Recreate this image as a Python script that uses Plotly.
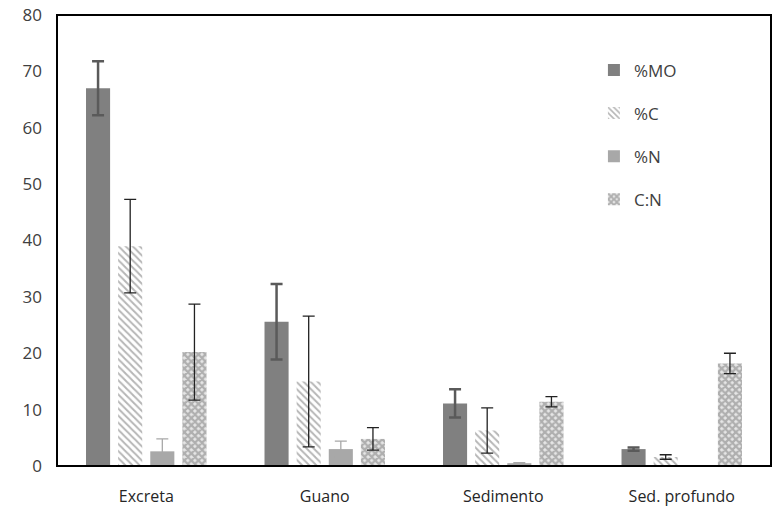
import plotly.graph_objects as go

categories = ["Excreta", "Guano", "Sedimento", "Sed. profundo"]
series_names = ["%MO", "%C", "%N", "C:N"]
mo_values = [67.0, 25.6, 11.1, 3.0]
mo_err = [4.8, 6.7, 2.5, 0.3]
c_values = [39.0, 15.0, 6.3, 1.6]
c_err = [8.3, 11.6, 4.0, 0.4]
n_values = [2.6, 3.0, 0.5, None]
n_err = [2.2, 1.4, 0.1, None]
cn_values = [20.2, 4.8, 11.4, 18.2]
cn_err = [8.5, 2.0, 0.9, 1.8]
y_ticks = [0, 10, 20, 30, 40, 50, 60, 70, 80]

FONT = "Open Sans, Noto Sans, DejaVu Sans, sans-serif"

fig = go.Figure()
fig.add_trace(go.Bar(
    name=series_names[0], x=categories, y=mo_values, legendgroup="a",
    marker=dict(color="#808080", line=dict(width=0)),
    error_y=dict(type="data", array=mo_err, color="#5a5a5a", thickness=2.5, width=6),
))
fig.add_trace(go.Bar(
    name=series_names[1], x=categories, y=c_values, legendgroup="b",
    marker=dict(color="white", line=dict(width=0),
                pattern=dict(shape="\\", fgcolor="#6e6e6e", bgcolor="white", size=5, solidity=0.4)),
    error_y=dict(type="data", array=c_err, color="#222222", thickness=1.3, width=6),
))
fig.add_trace(go.Bar(
    name=series_names[2], x=categories, y=n_values, legendgroup="c",
    marker=dict(color="#a8a8a8", line=dict(width=0)),
    error_y=dict(type="data", array=n_err, color="#a8a8a8", thickness=1.3, width=6),
))
fig.add_trace(go.Bar(
    name=series_names[3], x=categories, y=cn_values, legendgroup="d",
    marker=dict(color="white", line=dict(width=0),
                pattern=dict(shape="x", fgcolor="#777777", bgcolor="#e6e6e6", size=5, solidity=0.7)),
    error_y=dict(type="data", array=cn_err, color="#222222", thickness=1.3, width=6),
))

fig.update_layout(
    width=776, height=514,
    margin=dict(l=57, r=5, t=15, b=48),
    paper_bgcolor="white", plot_bgcolor="white",
    barmode="group", bargap=0.28, bargroupgap=0.25,
    font=dict(family=FONT, size=17, color="#404040"),
    showlegend=True,
    legend=dict(x=0.752, y=0.917, xanchor="left", yanchor="top",
                bgcolor="rgba(0,0,0,0)", font=dict(size=17, color="#404040"),
                traceorder="grouped", tracegroupgap=18, itemwidth=30),
    shapes=[dict(type="rect", xref="paper", yref="paper", x0=0, x1=1, y0=0, y1=1,
                 line=dict(color="black", width=2), fillcolor="rgba(0,0,0,0)", layer="above")],
)
fig.update_xaxes(showline=False, showgrid=False, ticks="", ticklabelstandoff=19,
                 automargin=False, tickfont=dict(size=16, color="#262626"))
fig.update_yaxes(range=[0, 80], tickvals=y_ticks, showline=False, showgrid=False,
                 zeroline=False, ticks="", ticklabelstandoff=14, automargin=False,
                 ticklabeloverflow="allow",
                 tickfont=dict(size=17, color="#404040"))

fig.write_html("out.html", config={"displayModeBar": False},
               post_script="document.body.style.margin='0';document.body.style.overflow='hidden';")
